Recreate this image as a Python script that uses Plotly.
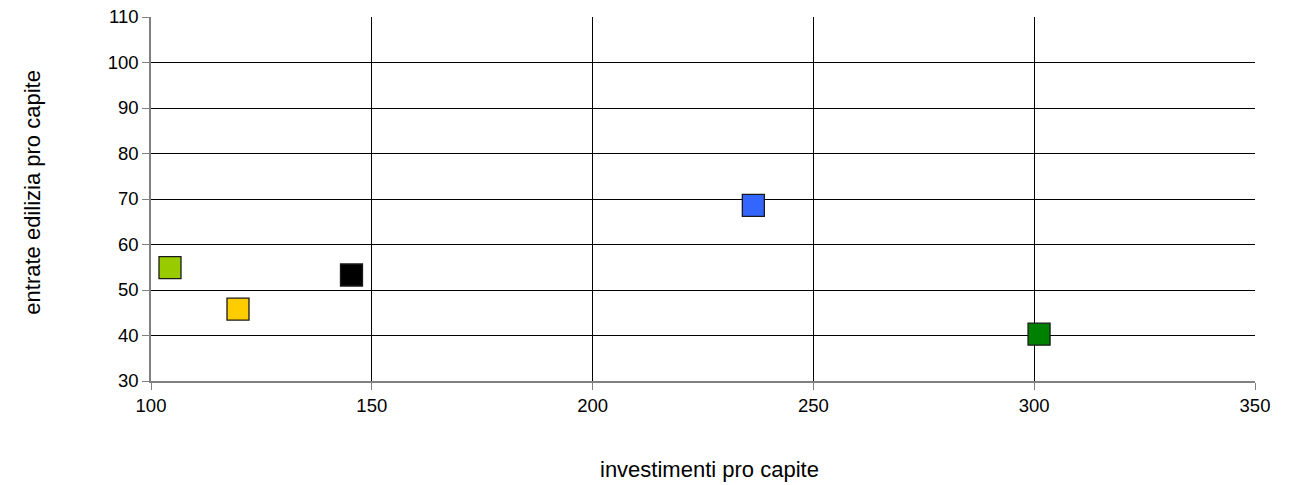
import plotly.graph_objects as go

# investment vs. building revenue per capita
investimenti = [104.3, 119.7, 145.4, 236.4, 301.1]
entrate = [54.9, 45.8, 53.3, 68.6, 40.3]
colori = ["#99CC00", "#FFCC00", "#000000", "#3366FF", "#008000"]

x_ticks = [100, 150, 200, 250, 300, 350]
y_ticks = [30, 40, 50, 60, 70, 80, 90, 100, 110]

x_title = "investimenti pro capite"
y_title = "entrate edilizia pro capite"

fig = go.Figure()
fig.add_trace(go.Scatter(
    x=investimenti,
    y=entrate,
    mode="markers",
    marker=dict(symbol="square", size=22, color=colori,
                line=dict(color="#1a1a1a", width=1.3)),
    showlegend=False,
    cliponaxis=False,
))

font = dict(family="Liberation Sans, Arial, sans-serif", color="#000000")

axis_common = dict(
    ticks="outside",
    ticklen=7,
    tickcolor="#808080",
    tickfont=dict(size=18.5),
    showgrid=True,
    gridcolor="#000000",
    gridwidth=1,
    showline=True,
    linecolor="#808080",
    linewidth=1.5,
    zeroline=False,
    automargin=False,
)

fig.update_layout(
    width=1306,
    height=485,
    margin=dict(l=151, r=51, t=17, b=104),
    paper_bgcolor="white",
    plot_bgcolor="white",
    font=font,
    xaxis=dict(range=[100, 350], tickvals=x_ticks, **axis_common),
    yaxis=dict(range=[30, 110], tickvals=y_ticks, **axis_common),
    annotations=[
        dict(text=x_title, xref="paper", yref="paper", x=0.506, y=-0.2445,
             xanchor="center", yanchor="middle", showarrow=False,
             font=dict(size=22)),
        dict(text=y_title, xref="paper", yref="paper", x=-0.1069, y=0.52,
             xanchor="center", yanchor="middle", textangle=-90,
             showarrow=False, font=dict(size=22)),
    ],
)

fig.write_html("out.html")
